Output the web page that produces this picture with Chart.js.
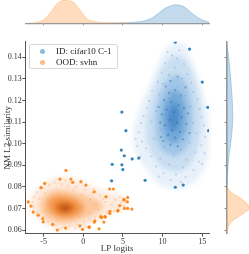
<!DOCTYPE html>
<html lang="en">
<head>
<meta charset="UTF-8">
<title>LP logits vs NM L2 similarity</title>
<script src="https://cdn.jsdelivr.net/npm/chart.js"></script>
<style>
  body { margin: 0; background: #fff; }
  #wrap { position: relative; width: 249px; height: 254px; }
  canvas { position: absolute; left: 0; top: 0; }
  #dens { filter: blur(2.5px); }
  #legend {
    position: absolute; left: 29px; top: 44px; width: 89px; height: 25px;
    border: 1px solid #d8d8d8; border-radius: 2px; background: rgba(255,255,255,0.85);
    font: 9px "Liberation Serif", serif; color: #222; box-sizing: border-box;
  }
  .row { position: absolute; left: 0; height: 11px; line-height: 11px; white-space: nowrap; }
  .dot { position: absolute; left: 10px; top: 3px; width: 5px; height: 5px; border-radius: 50%; }
  .lab { position: absolute; left: 26px; top: 0; }
</style>
</head>
<body>
<div id="wrap">
  <canvas id="dens" width="249" height="254"></canvas>
  <canvas id="main" width="249" height="254"></canvas>
  <canvas id="top" width="249" height="30"></canvas>
  <canvas id="side" width="39" height="254" style="left:210px"></canvas>
  <div id="legend">
    <div class="row" style="top:1px"><span class="dot" style="background:#8dbbe0"></span><span class="lab">ID: cifar10 C-1</span></div>
    <div class="row" style="top:12px"><span class="dot" style="background:#ffbb88"></span><span class="lab">OOD: svhn</span></div>
  </div>
</div>
<script>
// axis ranges / ticks
const xRange = [-7.3, 15.85];
const yRange = [0.0583, 0.1472];
const xTickStep = 5;
const yTickStep = 0.01;

// ID (cifar10 C-1): isolated points
const idOutliers = [[11.6,0.147],[13.4,0.1438],[15.0,0.1285],[4.87,0.1146],[15.7,0.1168],[5.38,0.106],[15.8,0.106],
  [4.8,0.097],[5.17,0.0944],[6.17,0.0929],[7.0,0.0933],[4.87,0.0902],[5.0,0.088],[3.65,0.0904],[3.58,0.0828],
  [7.8,0.083],[11.6,0.0798],[12.6,0.0808]];
// ID: faint points spread over the cloud
const idCloud = [[10.6,0.1425],[11.2,0.1408],[12.1,0.1432],[11.8,0.1395],[10.3,0.1372],[12.7,0.1368],[9.9,0.1330],
  [11.5,0.1352],[13.1,0.1322],[10.8,0.1318],[9.4,0.1287],[12.4,0.1301],[13.6,0.1281],[10.1,0.1276],[11.9,0.1265],
  [8.7,0.1244],[13.9,0.1239],[9.6,0.1228],[12.9,0.1222],[14.4,0.1205],[8.3,0.1198],[10.9,0.1210],[11.6,0.1189],
  [8.0,0.1163],[13.5,0.1172],[14.7,0.1160],[9.2,0.1151],[7.6,0.1128],[12.2,0.1140],[14.9,0.1122],[10.4,0.1133],
  [7.3,0.1095],[8.6,0.1102],[13.8,0.1096],[15.2,0.1084],[11.1,0.1078],[7.0,0.1052],[9.8,0.1064],[12.7,0.1058],
  [14.3,0.1047],[15.4,0.1032],[7.4,0.1010],[8.9,0.1024],[11.7,0.1019],[13.4,0.1005],[14.9,0.0993],[7.9,0.0978],
  [10.2,0.0985],[12.3,0.0972],[14.1,0.0961],[15.3,0.0955],[8.6,0.0941],[9.7,0.0932],[11.4,0.0946],[13.0,0.0925],
  [14.6,0.0917],[9.2,0.0895],[10.8,0.0904],[12.6,0.0889],[13.9,0.0878],[10.1,0.0862],[11.7,0.0858],[12.9,0.0845],
  [11.0,0.0832],[12.3,0.0821],[9.5,0.0848],[15.0,0.0906],[6.8,0.0990],[6.6,0.1022],[7.2,0.0940]];
// ID: denser points near the centre
const idCore = [[10.8,0.1235],[11.6,0.1248],[12.3,0.1222],[10.2,0.1201],[11.1,0.1193],[12.0,0.1178],[12.7,0.1165],
  [10.5,0.1158],[11.4,0.1147],[9.9,0.1135],[12.4,0.1122],[10.9,0.1110],[11.8,0.1098],[13.0,0.1090],[10.3,0.1085],
  [11.2,0.1062],[12.2,0.1055],[10.7,0.1040],[11.6,0.1028],[12.6,0.1020],[10.1,0.1012],[11.0,0.0995],[11.9,0.0988],
  [9.7,0.1098],[13.2,0.1140],[9.5,0.1170],[12.9,0.1260],[11.0,0.1290],[11.9,0.1310],[10.4,0.1265],[13.4,0.1050],[9.8,0.1030]];
// ID: density contours, outer to inner
const idLevels = [
  [[11.5,0.1465],[12.6,0.146],[13.3,0.142],[14.2,0.134],[15.0,0.125],[15.6,0.116],[16.0,0.106],[15.9,0.097],[15.2,0.088],
   [14.2,0.083],[13.0,0.080],[11.5,0.079],[10.0,0.080],[8.8,0.084],[7.6,0.090],[6.6,0.096],[6.3,0.104],[6.8,0.113],
   [7.6,0.121],[8.4,0.128],[9.3,0.136],[10.2,0.143],[10.9,0.146]],
  [[11.4,0.141],[12.8,0.139],[13.9,0.131],[14.7,0.120],[14.9,0.108],[14.4,0.097],[13.4,0.090],[12.0,0.087],[10.5,0.088],
   [9.2,0.092],[8.2,0.099],[7.9,0.108],[8.4,0.119],[9.3,0.129],[10.3,0.137]],
  [[11.3,0.132],[12.6,0.130],[13.5,0.122],[13.8,0.111],[13.3,0.100],[12.1,0.095],[10.7,0.095],[9.6,0.099],[9.1,0.107],
   [9.3,0.118],[10.2,0.127]],
  [[11.2,0.125],[12.3,0.123],[12.9,0.115],[12.7,0.105],[11.6,0.100],[10.5,0.102],[10.0,0.109],[10.2,0.118]],
  [[11.2,0.119],[11.9,0.117],[12.1,0.111],[11.6,0.106],[10.9,0.107],[10.7,0.113]]
];

// OOD (svhn): isolated points
const oodOutliers = [[-2.18,0.0876],[-4.86,0.0816],[-2.93,0.0836],[-1.55,0.0836],[-1.33,0.0821],[-0.29,0.0824],
  [0.34,0.0808],[-5.33,0.0796],[3.32,0.079],[3.8,0.079],[-6.93,0.073],[-6.59,0.0711],[-6.3,0.0683],[-5.67,0.0669],
  [-5.1,0.0652],[-5.04,0.0638],[-3.85,0.0626],[-3.27,0.060],[-2.22,0.0609],[-0.42,0.0619],[-0.08,0.0603],[0.72,0.0612],
  [1.47,0.0642],[2.32,0.0657],[2.78,0.066],[3.36,0.0687],[4.4,0.069],[5.13,0.0742],[5.6,0.0751],[5.13,0.0739],
  [5.55,0.073],[4.6,0.0713],[5.2,0.070],[5.6,0.07],[6.13,0.0697],[1.39,0.0777],[2.86,0.0754],[4.33,0.0688],
  [3.36,0.0677],[2.73,0.0662],[2.19,0.0662],[2.6,0.0637],[1.39,0.0637],[0.76,0.0615],[2.0,0.0606]];
const oodCloud = [[-6.2,0.0752],[-5.8,0.0774],[-5.1,0.0795],[-4.3,0.0808],[-3.6,0.0820],[-2.7,0.0812],[-1.9,0.0805],
  [-0.9,0.0798],[0.2,0.0786],[1.1,0.0772],[2.1,0.0760],[3.0,0.0752],[4.0,0.0741],[4.8,0.0728],[5.2,0.0712],[4.4,0.0702],
  [3.6,0.0716],[2.8,0.0730],[3.9,0.0688],[3.0,0.0680],[2.2,0.0672],[1.5,0.0660],[0.8,0.0648],[0.1,0.0636],[-0.8,0.0625],
  [-1.7,0.0618],[-2.6,0.0612],[-3.5,0.0621],[-4.4,0.0638],[-5.0,0.0660],[-5.8,0.0682],[-6.3,0.0708],[-6.4,0.0730],
  [-5.5,0.0745],[-4.8,0.0770],[-0.2,0.0762],[0.9,0.0742],[1.6,0.0718],[1.9,0.0695],[0.7,0.0680],[-0.5,0.0662],
  [-3.3,0.0648],[-4.7,0.0690],[-1.2,0.0785],[2.5,0.0745],[4.6,0.0752],[1.3,0.0790],[-2.2,0.0828],[-3.0,0.0605],
  [-1.0,0.0608],[0.3,0.0618],[5.4,0.0735]];
const oodLevels = [
  [[-3.0,0.0845],[-1.0,0.0835],[1.0,0.0805],[3.0,0.0775],[5.0,0.0755],[5.6,0.0720],[4.5,0.0690],[2.5,0.0660],[1.0,0.0630],
   [-0.5,0.0610],[-2.5,0.0600],[-4.2,0.0615],[-5.5,0.0650],[-6.6,0.0690],[-6.8,0.0735],[-6.0,0.0780],[-4.6,0.0825]],
  [[-3.2,0.0790],[-1.5,0.0780],[0.3,0.0760],[2.0,0.0735],[2.5,0.0705],[1.2,0.0670],[-0.5,0.0645],[-2.5,0.0630],
   [-4.2,0.0645],[-5.3,0.0685],[-5.4,0.0730],[-4.6,0.0770]],
  [[-3.1,0.0762],[-1.5,0.0752],[-0.2,0.0725],[0.0,0.0690],[-1.1,0.0662],[-2.7,0.0655],[-4.0,0.0676],[-4.6,0.0715],[-4.2,0.0748]],
  [[-2.7,0.0732],[-1.5,0.0724],[-1.0,0.0701],[-1.6,0.0682],[-2.8,0.0678],[-3.5,0.0698],[-3.4,0.0720]],
  [[-2.4,0.0716],[-1.7,0.0709],[-1.8,0.0694],[-2.5,0.0690],[-2.9,0.0703]]
];

// marginal densities (relative height)
const oodXDens = [[-7.0,0],[-6.2,0.02],[-5.6,0.06],[-5.0,0.15],[-4.2,0.43],[-3.4,0.8],[-2.8,0.95],[-2.3,0.99],[-1.8,0.97],
  [-1.3,0.91],[-0.8,0.75],[-0.4,0.56],[0.0,0.38],[0.4,0.22],[0.8,0.13],[1.3,0.08],[2.0,0.05],[3.0,0.03],[4.0,0.02],[5.0,0.01],[6.0,0]];
const idXDens = [[3.5,0],[5.0,0.02],[6.5,0.05],[7.5,0.09],[8.3,0.17],[8.8,0.26],[9.5,0.43],[10.1,0.6],[10.8,0.72],[11.4,0.78],
  [11.8,0.79],[12.4,0.75],[13.0,0.64],[13.6,0.46],[14.3,0.28],[15.1,0.13],[15.85,0.05]];
const oodYDens = [[0.0815,0],[0.080,0.03],[0.0785,0.11],[0.077,0.26],[0.0754,0.52],[0.074,0.72],[0.0724,0.9],[0.0712,0.98],
  [0.0703,1.0],[0.0695,0.97],[0.0685,0.86],[0.0673,0.7],[0.0662,0.52],[0.065,0.35],[0.0638,0.22],[0.0625,0.12],
  [0.061,0.06],[0.0595,0.03],[0.0583,0.02],[0.0583,0]];
const idYDens = [[0.147,0],[0.1437,0.04],[0.1372,0.12],[0.130,0.18],[0.1248,0.22],[0.118,0.26],[0.1125,0.27],[0.107,0.25],
  [0.1017,0.2],[0.097,0.14],[0.093,0.09],[0.0893,0.06],[0.085,0.03],[0.0818,0.02],[0.079,0]];

const serif = '"Liberation Serif", serif';
const pts = a => a.map(p => ({x: p[0], y: p[1]}));
const ring = a => pts(a.concat([a[0]]));

const idFills = ['#e8f1fa', '#c9def1', '#a0c5e6', '#72a8d8', '#4d8cc8'];
const oodFills = ['#feeadb', '#fcc89c', '#f59a52', '#de6f1f', '#b24f14'];

// same chart area on every layer
const areaPad = {left: 25.3, top: 41.7, right: 40, bottom: 20.3};

// density shading layer (blurred with css)
const densSets = [];
idLevels.forEach((lv, i) => densSets.push({data: ring(lv), showLine: true, fill: 'shape', tension: 0.35,
  borderWidth: 0, pointRadius: 0, backgroundColor: idFills[i], order: 10 - i}));
oodLevels.forEach((lv, i) => densSets.push({data: ring(lv), showLine: true, fill: 'shape', tension: 0.35,
  borderWidth: 0, pointRadius: 0, backgroundColor: oodFills[i], order: 10 - i}));

new Chart(document.getElementById('dens'), {
  type: 'scatter',
  data: {datasets: densSets},
  options: {
    responsive: false, animation: false,
    layout: {padding: areaPad},
    plugins: {legend: {display: false}, tooltip: {enabled: false}},
    scales: {
      x: {display: false, min: xRange[0], max: xRange[1]},
      y: {display: false, min: yRange[0], max: yRange[1]}
    }
  }
});

const tickFont = {family: serif, size: 8};
const titleFont = {family: serif, size: 9};

new Chart(document.getElementById('main'), {
  type: 'scatter',
  data: {datasets: [
    {data: pts(idOutliers), backgroundColor: 'rgba(31,119,180,0.9)', pointRadius: 1.6},
    {data: pts(oodOutliers), backgroundColor: 'rgba(255,127,14,0.9)', pointRadius: 1.6},
    {data: pts(idCore), backgroundColor: 'rgba(35,95,170,0.45)', pointStyle: 'rect', pointRadius: 1.3},
    {data: pts(idCloud), backgroundColor: 'rgba(110,150,205,0.35)', pointStyle: 'rect', pointRadius: 1.3},
    {data: pts(oodCloud), backgroundColor: 'rgba(255,150,70,0.3)', pointStyle: 'rect', pointRadius: 1.3}
  ]},
  options: {
    responsive: false, animation: false,
    layout: {padding: {left: 0, top: areaPad.top, right: areaPad.right, bottom: 0}},
    plugins: {legend: {display: false}, tooltip: {enabled: false}},
    elements: {point: {borderWidth: 0}},
    scales: {
      x: {
        min: xRange[0], max: xRange[1],
        ticks: {stepSize: xTickStep, includeBounds: false, font: tickFont, color: '#333', padding: 0, maxRotation: 0},
        grid: {drawOnChartArea: false, tickLength: 3, color: '#555'},
        border: {color: '#555', width: 1},
        title: {display: true, text: 'LP logits', font: titleFont, color: '#333', padding: 0},
        afterFit: s => { s.height = areaPad.bottom; }
      },
      y: {
        min: yRange[0], max: yRange[1],
        ticks: {stepSize: yTickStep, includeBounds: false, font: tickFont, color: '#333', padding: 0.5,
          callback: v => v.toFixed(2)},
        grid: {drawOnChartArea: false, tickLength: 3, color: '#555'},
        border: {color: '#555', width: 1},
        title: {display: true, text: 'NM L2 similarity', font: titleFont, color: '#333', padding: {top: 2, bottom: 0}},
        afterFit: s => { s.width = areaPad.left; }
      }
    }
  }
});

// top marginal: density of LP logits
new Chart(document.getElementById('top'), {
  type: 'scatter',
  data: {datasets: [
    {data: pts(oodXDens), showLine: true, fill: 'origin', tension: 0.4, pointRadius: 0, borderWidth: 0.8,
      borderColor: 'rgba(255,127,14,0.35)', backgroundColor: 'rgba(255,127,14,0.27)'},
    {data: pts(idXDens), showLine: true, fill: 'origin', tension: 0.4, pointRadius: 0, borderWidth: 0.8,
      borderColor: 'rgba(31,119,180,0.35)', backgroundColor: 'rgba(31,119,180,0.27)'}
  ]},
  options: {
    responsive: false, animation: false,
    layout: {padding: {left: areaPad.left, top: 0, right: areaPad.right, bottom: 0}},
    plugins: {legend: {display: false}, tooltip: {enabled: false}},
    scales: {
      x: {min: xRange[0], max: xRange[1], ticks: {stepSize: xTickStep, includeBounds: false, display: false},
        grid: {drawOnChartArea: false, tickLength: 2, color: '#777'}, border: {color: '#999', width: 1.3},
        afterFit: s => { s.height = 6.7; }},
      y: {display: false, min: 0, max: 1}
    }
  }
});

// right marginal: density of NM L2 similarity
new Chart(document.getElementById('side'), {
  type: 'scatter',
  data: {datasets: [
    {data: oodYDens.map(p => ({x: p[1], y: p[0]})), showLine: true, fill: 'shape', tension: 0.4, pointRadius: 0,
      borderWidth: 0.8, borderColor: 'rgba(255,127,14,0.35)', backgroundColor: 'rgba(255,127,14,0.27)'},
    {data: idYDens.map(p => ({x: p[1], y: p[0]})), showLine: true, fill: 'shape', tension: 0.4, pointRadius: 0,
      borderWidth: 0.8, borderColor: 'rgba(31,119,180,0.35)', backgroundColor: 'rgba(31,119,180,0.27)'}
  ]},
  options: {
    responsive: false, animation: false,
    layout: {padding: {left: 0, top: areaPad.top, right: 0, bottom: areaPad.bottom}},
    plugins: {legend: {display: false}, tooltip: {enabled: false}},
    scales: {
      x: {display: false, min: 0, max: 1},
      y: {min: yRange[0], max: yRange[1], ticks: {stepSize: yTickStep, includeBounds: false, display: false},
        grid: {drawOnChartArea: false, tickLength: 2, color: '#777'}, border: {color: '#999', width: 1.5},
        afterFit: s => { s.width = 16.7; }}
    }
  }
});
</script>
</body>
</html>
